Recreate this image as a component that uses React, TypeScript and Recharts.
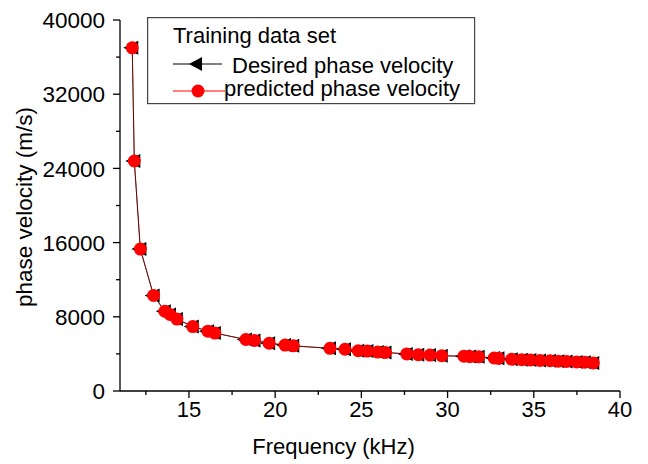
import React from 'react';
import { LineChart, Line, XAxis, YAxis, Legend } from 'recharts';

const frequency = [
  11.71, 11.83, 12.18, 12.95, 13.6, 13.9, 14.3, 15.22, 16.1, 16.5,
  18.3, 18.8, 19.65, 20.57, 21.05, 23.18, 24.05, 24.82, 25.35, 25.95,
  26.4, 27.63, 28.3, 28.98, 29.66, 30.95, 31.3, 31.8, 32.7, 32.95,
  33.72, 34.3, 34.8, 35.36, 35.94, 36.42, 36.9, 37.48, 37.96, 38.45,
];
const desiredVelocity = [
  37000, 24800, 15300, 10300, 8600, 8250, 7750, 6950, 6450, 6250,
  5550, 5450, 5150, 4950, 4870, 4600, 4500, 4350, 4300, 4200,
  4150, 4000, 3920, 3870, 3800, 3750, 3710, 3680, 3560, 3520,
  3420, 3380, 3340, 3300, 3260, 3220, 3180, 3140, 3100, 3030,
];
const predictedVelocity = [
  37000, 24800, 15300, 10300, 8600, 8250, 7750, 6950, 6450, 6250,
  5550, 5450, 5150, 4950, 4870, 4600, 4500, 4350, 4300, 4200,
  4150, 4000, 3920, 3870, 3800, 3750, 3710, 3680, 3560, 3520,
  3420, 3380, 3340, 3300, 3260, 3220, 3180, 3140, 3100, 3030,
];
const xTicks = [12.5, 15, 17.5, 20, 22.5, 25, 27.5, 30, 32.5, 35, 37.5, 40];
const xMajorTicks = [15, 20, 25, 30, 35, 40];
const yTicks = [0, 4000, 8000, 12000, 16000, 20000, 24000, 28000, 32000, 36000, 40000];
const yMajorTicks = [0, 8000, 16000, 24000, 32000, 40000];

const FONT = '"Liberation Sans", Arial, sans-serif';

const data = frequency.map((f, i) => ({
  f,
  desired: desiredVelocity[i],
  predicted: predictedVelocity[i],
}));

const XTick = (props: any) => {
  const { x, y, payload } = props;
  const major = xMajorTicks.includes(payload.value);
  return (
    <g>
      <line x1={x} y1={y} x2={x} y2={y + (major ? 7 : 4)} stroke="#000" strokeWidth={1.3} />
      {major && (
        <text x={x} y={y + 26} textAnchor="middle" fontSize={22} fontFamily={FONT} fill="#000">
          {payload.value}
        </text>
      )}
    </g>
  );
};

const YTick = (props: any) => {
  const { x, y, payload } = props;
  const major = yMajorTicks.includes(payload.value);
  return (
    <g>
      <line x1={x} y1={y} x2={x - (major ? 7 : 4)} y2={y} stroke="#000" strokeWidth={1.3} />
      {major && (
        <text x={x - 15} y={y} dy="0.36em" textAnchor="end" fontSize={22.5} fontFamily={FONT} fill="#000">
          {payload.value}
        </text>
      )}
    </g>
  );
};

const XTitle = () => (
  <text x={333.5} y={454} textAnchor="middle" fontSize={22} fontFamily={FONT} fill="#000">
    Frequency (kHz)
  </text>
);

const YTitle = () => (
  <text
    x={0}
    y={0}
    transform="translate(32,207) rotate(-90)"
    textAnchor="middle"
    fontSize={22.5}
    fontFamily={FONT}
    fill="#000"
  >
    phase velocity (m/s)
  </text>
);

const triangle = (cx: number, cy: number) =>
  `${cx - 9},${cy} ${cx + 6},${cy - 7} ${cx + 6},${cy + 7}`;

const renderTriangle = (props: any) => {
  const { cx, cy, index } = props;
  if (cx == null || cy == null) return <g key={`t-${index}`} />;
  return <polygon key={`t-${index}`} points={triangle(cx, cy)} fill="#000" />;
};

const renderCircle = (props: any) => {
  const { cx, cy, index } = props;
  if (cx == null || cy == null) return <g key={`c-${index}`} />;
  return <circle key={`c-${index}`} cx={cx} cy={cy} r={6.5} fill="#ff0000" />;
};

const LegendBox = () => (
  <svg width={330} height={89} style={{ display: 'block' }}>
    <rect x={0.6} y={0.6} width={327} height={86} fill="#fff" stroke="#444" strokeWidth={1.2} />
    <text x={26} y={26} fontSize={22} fontFamily={FONT} fill="#000">Training data set</text>
    <line x1={26} y1={47} x2={75} y2={47} stroke="#000" strokeWidth={1} />
    <polygon points={`42,47 55,40 55,54`} fill="#000" />
    <text x={85} y={56} fontSize={22} fontFamily={FONT} fill="#000">Desired phase velocity</text>
    <line x1={26} y1={74} x2={78} y2={74} stroke="#ff0000" strokeWidth={1} />
    <circle cx={51} cy={74} r={6.5} fill="#ff0000" />
    <text x={77} y={79} fontSize={22} fontFamily={FONT} fill="#000">predicted phase velocity</text>
  </svg>
);

export default function App() {
  return (
    <div style={{ position: 'absolute', left: 0, top: 0, width: 648, height: 464, background: '#fff' }}>
      <LineChart
        width={648}
        height={464}
        data={data}
        margin={{ top: 20, right: 28, bottom: 0, left: 0 }}
      >
        <XAxis
          xAxisId="main"
          dataKey="f"
          type="number"
          domain={[11, 40]}
          ticks={xTicks}
          interval={0}
          height={73}
          tickSize={0}
          tickMargin={0}
          tickLine={false}
          axisLine={{ stroke: '#000', strokeWidth: 1.3 }}
          tick={<XTick />}
          label={<XTitle />}
        />
        <XAxis
          xAxisId="top"
          orientation="top"
          dataKey="f"
          type="number"
          domain={[11, 40]}
          ticks={[]}
          tick={false}
          tickLine={false}
          height={0}
          axisLine={{ stroke: '#000', strokeWidth: 1.3 }}
        />
        <YAxis
          yAxisId="main"
          type="number"
          domain={[0, 40000]}
          ticks={yTicks}
          interval={0}
          width={120}
          tickSize={0}
          tickMargin={0}
          tickLine={false}
          axisLine={{ stroke: '#000', strokeWidth: 1.3 }}
          tick={<YTick />}
          label={<YTitle />}
        />
        <YAxis
          yAxisId="right"
          orientation="right"
          type="number"
          domain={[0, 40000]}
          ticks={[]}
          tick={false}
          tickLine={false}
          width={0}
          axisLine={{ stroke: '#000', strokeWidth: 1.3 }}
        />
        <Line
          xAxisId="main"
          yAxisId="main"
          dataKey="desired"
          stroke="#000"
          strokeWidth={1}
          dot={renderTriangle}
          activeDot={false}
          isAnimationActive={false}
        />
        <Line
          xAxisId="main"
          yAxisId="main"
          dataKey="predicted"
          stroke="#ff0000"
          strokeOpacity={0.45}
          strokeWidth={1}
          dot={renderCircle}
          activeDot={false}
          isAnimationActive={false}
        />
        <Legend
          layout="vertical"
          align="center"
          verticalAlign="middle"
          wrapperStyle={{ position: 'absolute', left: 147, top: 17, width: 330, height: 89 }}
          content={() => <LegendBox />}
        />
      </LineChart>
    </div>
  );
}
